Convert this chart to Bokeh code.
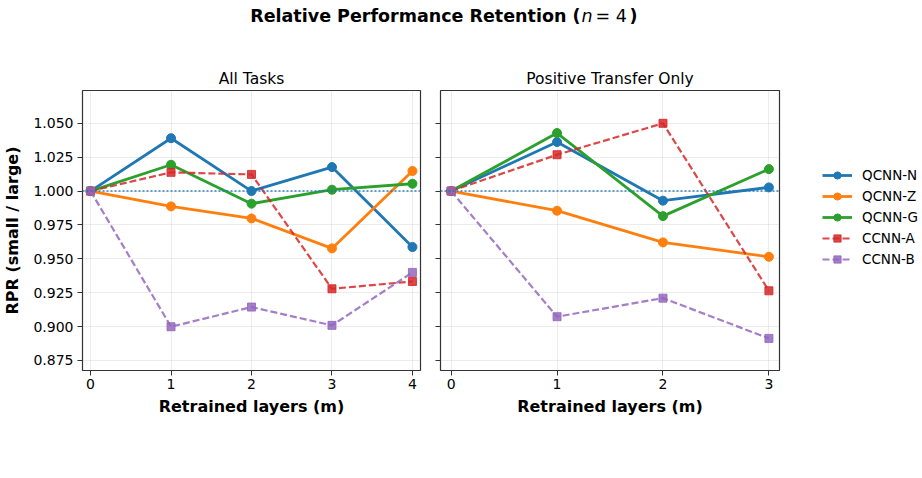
from bokeh.plotting import figure
from bokeh.layouts import column, row
from bokeh.models import (Range1d, FixedTicker, Span, Legend, LegendItem,
                          NumeralTickFormatter, CustomJSTickFormatter)
from bokeh.core.properties import value
from bokeh.embed import file_html
from bokeh.resources import INLINE

# ---- data -------------------------------------------------------------
series = ["QCNN-N", "QCNN-Z", "QCNN-G", "CCNN-A", "CCNN-B"]
colors = ["#1f77b4", "#ff7f0e", "#2ca02c", "#d62728", "#9467bd"]
quantum = [True, True, True, False, False]

layers_all = [0, 1, 2, 3, 4]
rpr_all = {
    "QCNN-N": [1.000, 1.039, 1.000, 1.0177, 0.9587],
    "QCNN-Z": [1.000, 0.9887, 0.9798, 0.9577, 1.0148],
    "QCNN-G": [1.000, 1.0194, 0.9907, 1.0010, 1.0054],
    "CCNN-A": [1.000, 1.0138, 1.0123, 0.9279, 0.9333],
    "CCNN-B": [1.000, 0.8999, 0.9144, 0.9009, 0.9400],
}

layers_pos = [0, 1, 2, 3]
rpr_pos = {
    "QCNN-N": [1.000, 1.0362, 0.9929, 1.0027],
    "QCNN-Z": [1.000, 0.9855, 0.9621, 0.9515],
    "QCNN-G": [1.000, 1.0428, 0.9815, 1.0162],
    "CCNN-A": [1.000, 1.0268, 1.0500, 0.9264],
    "CCNN-B": [1.000, 0.9073, 0.9210, 0.8913],
}

y_ticks = [0.875, 0.900, 0.925, 0.950, 0.975, 1.000, 1.025, 1.050]
y_lo, y_hi = 0.8676, 1.0742
baseline = 1.0

FONT = "DejaVu Sans"
FRAME_H = 280
TOP, BOTTOM = 30, 108
PANEL_H = TOP + FRAME_H + BOTTOM


def series_style(p, xs, ys, color, q):
    """Line plus markers for one model family; solid/circle for quantum, dashed/square for classical."""
    if q:
        ln = p.line(xs, ys, line_color=color, line_width=2.8)
        mk = p.scatter(xs, ys, marker="circle", size=9, fill_color=color,
                       line_color=color)
    else:
        ln = p.line(xs, ys, line_color=color, line_width=2.2, line_dash="7 3",
                    line_alpha=0.85)
        mk = p.scatter(xs, ys, marker="square", size=8, fill_color=color,
                       line_color=color, fill_alpha=0.85, line_alpha=0.85)
    return [ln, mk]


def style_panel(p, title, xticks):
    p.title.text = title
    p.title.align = "center"
    p.title.text_font = FONT
    p.title.text_font_size = "15.5px"
    p.title.text_font_style = "normal"
    p.title.text_color = "#000000"
    p.title.standoff = 6
    p.outline_line_color = "#333333"
    p.outline_line_width = 1.2
    p.outline_line_alpha = 1.0
    p.background_fill_color = "white"
    p.border_fill_color = "white"
    p.grid.grid_line_color = "#b0b0b0"
    p.grid.grid_line_alpha = 0.3
    p.grid.grid_line_width = 0.8
    p.xaxis.ticker = FixedTicker(ticks=xticks)
    p.yaxis.ticker = FixedTicker(ticks=y_ticks)
    for ax in (p.xaxis, p.yaxis):
        ax.axis_line_color = None
        ax.major_tick_line_color = "#333333"
        ax.major_tick_line_width = 1
        ax.major_tick_out = 5
        ax.major_tick_in = 0
        ax.minor_tick_line_color = None
        ax.major_label_text_font = FONT
        ax.major_label_text_font_size = "14px"
        ax.major_label_text_color = "#000000"
        ax.axis_label_text_font = FONT
        ax.axis_label_text_font_size = "16px"
        ax.axis_label_text_font_style = "bold"
        ax.axis_label_text_color = "#000000"
    p.xaxis.axis_label = "Retrained layers (m)"
    p.xaxis.major_label_standoff = 3
    p.xaxis.axis_label_standoff = 5
    p.add_layout(Span(location=baseline, dimension="width", line_color="#1f77b4",
                      line_width=1.5, line_dash="2 2", line_alpha=0.9))


def draw_series(p, xs, table):
    return {name: series_style(p, xs, table[name], color, q)
            for name, color, q in zip(series, colors, quantum)}


# ---- left panel: all tasks --------------------------------------------
left = figure(frame_width=338, frame_height=FRAME_H,
              x_range=Range1d(-0.1, 4.1), y_range=Range1d(y_lo, y_hi),
              min_border_left=80, min_border_right=10,
              min_border_top=TOP, min_border_bottom=BOTTOM,
              toolbar_location=None, output_backend="svg")
style_panel(left, "All Tasks", layers_all)
left.yaxis.formatter = NumeralTickFormatter(format="0.000")
left.yaxis.axis_label = "RPR (small / large)"
left.yaxis.major_label_standoff = 4
left.yaxis.axis_label_standoff = 8
draw_series(left, layers_all, rpr_all)

# ---- right panel: positive transfer only ------------------------------
right = figure(frame_width=339, frame_height=FRAME_H,
               x_range=Range1d(-0.1, 3.1), y_range=left.y_range,
               min_border_left=10, min_border_right=10,
               min_border_top=TOP, min_border_bottom=BOTTOM,
               toolbar_location=None, output_backend="svg")
style_panel(right, "Positive Transfer Only", layers_pos)
right.yaxis.formatter = CustomJSTickFormatter(code="return ''")
right.yaxis.major_label_standoff = 0
draw_series(right, layers_pos, rpr_pos)

# ---- legend column: same series, drawn outside this strip's view ------
key = figure(width=922 - 428 - 359, height=PANEL_H,
             x_range=Range1d(100, 101), y_range=Range1d(100, 101),
             min_border=0, toolbar_location=None, output_backend="svg")
key.axis.visible = False
key.grid.visible = False
key.outline_line_color = None
swatches = draw_series(key, layers_pos, rpr_pos)
legend = Legend(items=[LegendItem(label=n, renderers=swatches[n]) for n in series],
                location=(33, 102), orientation="vertical",
                margin=0, padding=0, spacing=3,
                glyph_width=30, glyph_height=18, label_height=18,
                label_standoff=10,
                label_text_font=FONT, label_text_font_size="13.5px",
                label_text_color="#000000",
                background_fill_alpha=0, border_line_alpha=0)
key.add_layout(legend, "center")

# ---- overall heading --------------------------------------------------
head = figure(width=922, height=60, x_range=Range1d(0, 922), y_range=Range1d(60, 0),
              min_border=0, toolbar_location=None, output_backend="svg")
head.axis.visible = False
head.grid.visible = False
head.outline_line_color = None
head.text(x=[580], y=[15], text=["Relative Performance Retention ("],
          text_font=value(FONT), text_font_size="17.5px", text_font_style="bold",
          text_align="right", text_baseline="middle", text_color="#000000")
head.text(x=[581], y=[15], text=["n"],
          text_font=value(FONT), text_font_size="17.5px", text_font_style="italic",
          text_align="left", text_baseline="middle", text_color="#000000")
head.text(x=[595], y=[15], text=["= 4"],
          text_font=value(FONT), text_font_size="17.5px", text_font_style="normal",
          text_align="left", text_baseline="middle", text_color="#000000")
head.text(x=[629], y=[15], text=[")"],
          text_font=value(FONT), text_font_size="17.5px", text_font_style="bold",
          text_align="left", text_baseline="middle", text_color="#000000")

layout = column(head, row(left, right, key, spacing=0), spacing=0)

open("out.html", "w").write(file_html(layout, INLINE))
